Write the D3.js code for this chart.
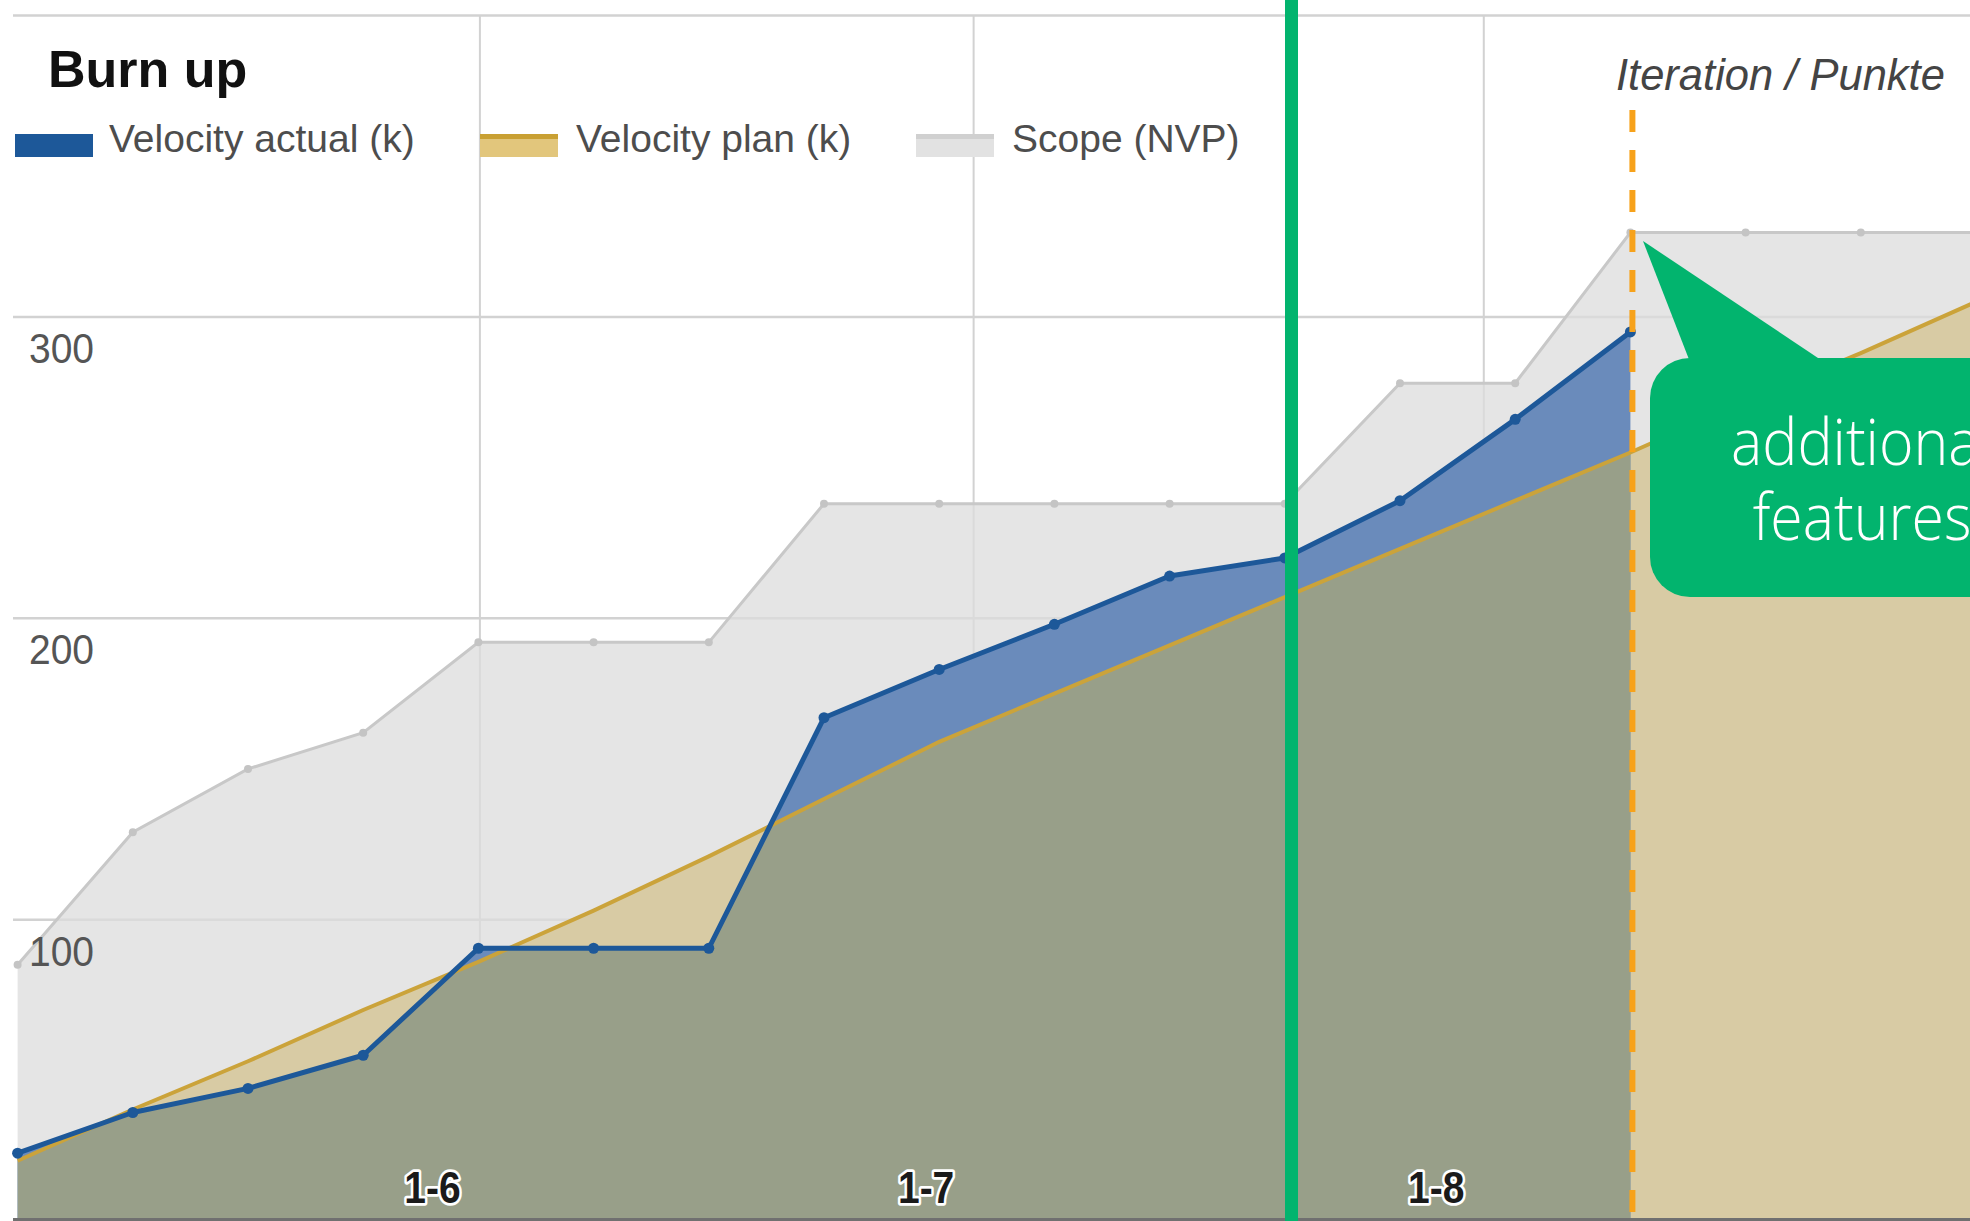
<!DOCTYPE html>
<html>
<head>
<meta charset="utf-8">
<script src="https://cdn.jsdelivr.net/npm/d3@7"></script>
<style>
  body { margin: 0; background: #fff; }
  svg { display: block; }
</style>
</head>
<body>
<div id="chart-area"></div>
<script>
// weekly data points (burn up per iteration)
var weeks = ["2014-05-04","2014-05-11","2014-05-18","2014-05-25","2014-06-01","2014-06-08",
             "2014-06-15","2014-06-22","2014-06-29","2014-07-06","2014-07-13","2014-07-20",
             "2014-07-27","2014-08-03","2014-08-10","2014-08-17","2014-08-24","2014-08-31"];
var actual = [22.5, 36, 44, 55, 90.5, 90.5, 90.5, 167, 183, 198, 214, 220, 239, 266, 295];
var plan   = [20, 37, 53, 70, 86, 103, 121, 140, 159, 175, 191, 207, 223, 239, 255, 272, 288, 305];
var scope  = [85, 129, 150, 162, 192, 192, 192, 238, 238, 238, 238, 238, 278, 278, 328, 328, 328, 328];

var yTicks = [100, 200, 300, 400];
var monthTicks = ["2014-06-01", "2014-07-01", "2014-08-01"];
var monthLabels = ["1-6", "1-7", "1-8"];
var seriesNames = ["Velocity actual (k)", "Velocity plan (k)", "Scope (NVP)"];

var W = 1970, H = 1221;
var parse = d3.timeParse("%Y-%m-%d");

var x = d3.scaleTime()
    .domain([parse("2014-05-04"), parse("2014-08-24")])
    .range([17.6, 1860.8]);

var y = d3.scaleLinear()
    .domain([0, 400])
    .range([1221, 15.5]);

function series(vals){
  return vals.map(function(v, i){ return {date: parse(weeks[i]), v: v}; });
}
var actualData = series(actual),
    planData = series(plan),
    scopeData = series(scope);

var svg = d3.select("#chart-area")
  .append("svg")
    .attr("width", W)
    .attr("height", H);

svg.append("rect").attr("width", W).attr("height", H).attr("fill", "#fff");

var area = d3.area()
    .x(function(d){ return x(d.date); })
    .y0(y(0))
    .y1(function(d){ return y(d.v); });

var line = d3.line()
    .x(function(d){ return x(d.date); })
    .y(function(d){ return y(d.v); });

// grid
var g = svg.append("g");
g.selectAll(".hgrid")
  .data(yTicks)
  .enter().append("line")
    .attr("class", "hgrid")
    .attr("x1", 13).attr("x2", W)
    .attr("y1", function(d){ return y(d); })
    .attr("y2", function(d){ return y(d); })
    .attr("stroke", "#d2d2d2")
    .attr("stroke-width", 2.5);

g.selectAll(".vgrid")
  .data(monthTicks)
  .enter().append("line")
    .attr("class", "vgrid")
    .attr("x1", function(d){ return x(parse(d)) + 1.5; })
    .attr("x2", function(d){ return x(parse(d)) + 1.5; })
    .attr("y1", y(400)).attr("y2", H)
    .attr("stroke", "#d2d2d2")
    .attr("stroke-width", 2);

// areas
svg.append("path")
    .attr("d", area(scopeData))
    .attr("fill", "#dcdcdc")
    .attr("fill-opacity", 0.75);

svg.append("path")
    .attr("d", area(planData))
    .attr("fill", "#d8cba4");

svg.append("path")
    .attr("d", area(actualData))
    .attr("fill", "#6a8bbb");

svg.append("clipPath")
    .attr("id", "actual-clip")
  .append("path")
    .attr("d", area(actualData));

svg.append("path")
    .attr("d", area(planData))
    .attr("clip-path", "url(#actual-clip)")
    .attr("fill", "#989f89");

// lines
svg.append("path")
    .attr("d", line(scopeData))
    .attr("fill", "none")
    .attr("stroke", "#c8c8c8")
    .attr("stroke-width", 3);

svg.selectAll(".scope-pt")
  .data(scopeData)
  .enter().append("circle")
    .attr("class", "scope-pt")
    .attr("cx", function(d){ return x(d.date); })
    .attr("cy", function(d){ return y(d.v); })
    .attr("r", 4)
    .attr("fill", "#c4c4c4");

svg.append("path")
    .attr("d", line(planData))
    .attr("fill", "none")
    .attr("stroke", "#cba33a")
    .attr("stroke-width", 4);

svg.append("path")
    .attr("d", line(actualData))
    .attr("fill", "none")
    .attr("stroke", "#1d5899")
    .attr("stroke-width", 5)
    .attr("stroke-linejoin", "round");

svg.selectAll(".act-pt")
  .data(actualData)
  .enter().append("circle")
    .attr("class", "act-pt")
    .attr("cx", function(d){ return x(d.date); })
    .attr("cy", function(d){ return y(d.v); })
    .attr("r", 5.5)
    .attr("fill", "#1d5899");

// bottom axis line
svg.append("line")
    .attr("x1", 13).attr("x2", W)
    .attr("y1", H - 1.5).attr("y2", H - 1.5)
    .attr("stroke", "#707070")
    .attr("stroke-width", 3);

// y labels (inside plot, below gridline)
svg.selectAll(".ylab")
  .data(yTicks.filter(function(d){ return d < 400; }))
  .enter().append("text")
    .attr("class", "ylab")
    .attr("transform", function(d){ return "translate(29," + (y(d) + 46) + ") scale(1,1.1)"; })
    .attr("font-family", "Arial, 'Liberation Sans', sans-serif")
    .attr("font-size", "39px")
    .attr("fill", "#555")
    .text(function(d){ return d; });

// x labels
svg.selectAll(".xlab")
  .data(monthTicks)
  .enter().append("text")
    .attr("class", "xlab")
    .attr("transform", function(d){ return "translate(" + (x(parse(d)) - 46) + ",1203) scale(1,1.12)"; })
    .attr("text-anchor", "middle")
    .attr("font-family", "Arial, 'Liberation Sans', sans-serif")
    .attr("font-weight", "bold")
    .attr("font-size", "39px")
    .attr("fill", "#1a1a1a")
    .attr("stroke", "#fff")
    .attr("stroke-width", 5)
    .attr("stroke-linejoin", "round")
    .attr("paint-order", "stroke")
    .text(function(d, i){ return monthLabels[i]; });

// current iteration marker
var xNow = x(parse(weeks[14])) + 2;
svg.append("line")
    .attr("x1", xNow).attr("x2", xNow)
    .attr("y1", 110).attr("y2", H)
    .attr("stroke", "#f7a21b")
    .attr("stroke-width", 6)
    .attr("stroke-dasharray", "22,18");

svg.append("text")
    .attr("x", 1616)
    .attr("y", 90)
    .attr("font-family", "Arial, 'Liberation Sans', sans-serif")
    .attr("font-style", "italic")
    .attr("font-size", "43.5px")
    .attr("fill", "#444")
    .text("Iteration / Punkte");

// green divider
svg.append("rect")
    .attr("x", 1285)
    .attr("y", 0)
    .attr("width", 13)
    .attr("height", H)
    .attr("fill", "#02b46e");

// callout
var callout = svg.append("g");
callout.append("path")
    .attr("d", "M1643,241 L1824,362 L1690,362 Z")
    .attr("fill", "#02b46e");
callout.append("rect")
    .attr("x", 1650).attr("y", 358)
    .attr("width", 420).attr("height", 239)
    .attr("rx", 40)
    .attr("fill", "#02b46e");
callout.selectAll("text")
  .data(["additional", "features"])
  .enter().append("text")
    .attr("transform", function(d, i){ return "translate(1862," + (465 + i * 75) + ") scale(1,1.08)"; })
    .attr("text-anchor", "middle")
    .attr("font-family", "'Open Sans', sans-serif")
    .attr("font-weight", 300)
    .attr("font-size", "59px")
    .attr("fill", "#fff")
    .text(function(d){ return d; });

// title
svg.append("text")
    .attr("x", 48)
    .attr("y", 87)
    .attr("font-family", "Arial, 'Liberation Sans', sans-serif")
    .attr("font-weight", "bold")
    .attr("font-size", "52px")
    .attr("fill", "#111")
    .text("Burn up");

// legend
var legX = [15, 480, 916];
var leg = svg.selectAll(".leg")
  .data(seriesNames)
  .enter().append("g")
    .attr("class", "leg")
    .attr("transform", function(d, i){ return "translate(" + legX[i] + ",0)"; });

leg.append("rect")
    .attr("x", 0).attr("y", 135)
    .attr("width", 78).attr("height", 22)
    .attr("fill", function(d, i){ return ["#1d5899", "#e2c67c", "#e2e2e2"][i]; });

leg.append("rect")
    .attr("x", 0).attr("y", 134)
    .attr("width", 78).attr("height", 5)
    .attr("fill", function(d, i){ return ["#1d5899", "#c9a033", "#d0d0d0"][i]; });

leg.append("text")
    .attr("x", function(d, i){ return [94, 96, 96][i]; })
    .attr("y", 152)
    .attr("font-family", "Arial, 'Liberation Sans', sans-serif")
    .attr("font-size", "39px")
    .attr("fill", "#4d4d4d")
    .text(function(d){ return d; });
</script>
</body>
</html>
